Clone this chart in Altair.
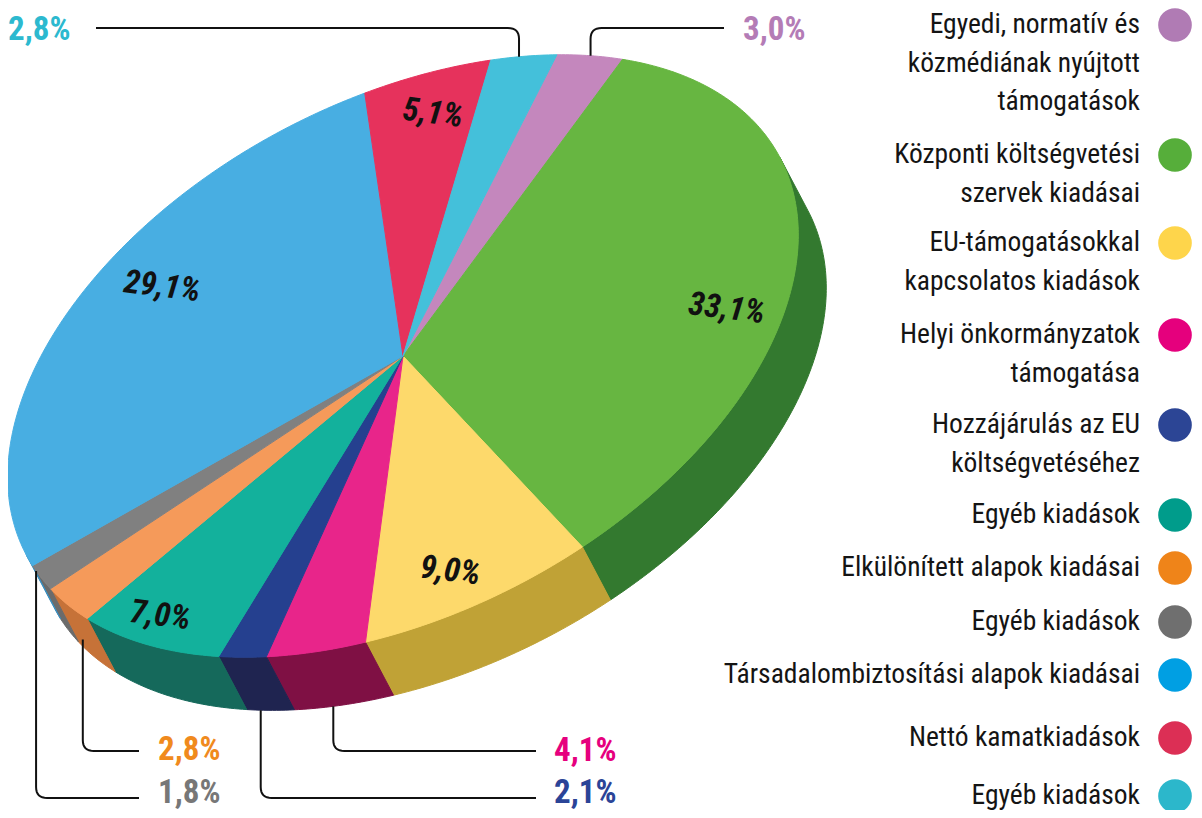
import altair as alt
import numpy as np
import pandas as pd

# ---------------- data ----------------
categories = [
    "Egyedi, normatív és közmédiának nyújtott támogatások",
    "Központi költségvetési szervek kiadásai",
    "EU-támogatásokkal kapcsolatos kiadások",
    "Helyi önkormányzatok támogatása",
    "Hozzájárulás az EU költségvetéséhez",
    "Egyéb kiadások",
    "Elkülönített alapok kiadásai",
    "Egyéb kiadások",
    "Társadalombiztosítási alapok kiadásai",
    "Nettó kamatkiadások",
    "Egyéb kiadások",
]
legend_lines = [
    ["Egyedi, normatív és", "közmédiának nyújtott", "támogatások"],
    ["Központi költségvetési", "szervek kiadásai"],
    ["EU-támogatásokkal", "kapcsolatos kiadások"],
    ["Helyi önkormányzatok", "támogatása"],
    ["Hozzájárulás az EU", "költségvetéséhez"],
    ["Egyéb kiadások"],
    ["Elkülönített alapok kiadásai"],
    ["Egyéb kiadások"],
    ["Társadalombiztosítási alapok kiadásai"],
    ["Nettó kamatkiadások"],
    ["Egyéb kiadások"],
]
values = [3.0, 33.1, 9.0, 4.1, 2.1, 7.0, 2.8, 1.8, 29.1, 5.1, 2.8]
value_labels = ["3,0%", "33,1%", "9,0%", "4,1%", "2,1%", "7,0%",
                "2,8%", "1,8%", "29,1%", "5,1%", "2,8%"]
inside = [False, True, True, False, False, True, False, False, True, True, False]

# ---------------- styles ----------------
top_colors = ["#c487bd", "#67b641", "#fdd96b", "#e8258a", "#25408f", "#13b19c",
              "#f59a5a", "#808080", "#48aee2", "#e6325c", "#44c0da"]
side_colors = ["#8e5f8a", "#33792f", "#c0a236", "#7f1044", "#1f2450", "#15695b",
               "#c67238", "#6b6b6b", "#3a8fc0", "#a02040", "#2e8ea3"]
legend_colors = ["#b07bb4", "#56ae3a", "#fed54b", "#e5007d", "#2c4595", "#009c8b",
                 "#ef8419", "#6f6f6f", "#009fe3", "#dc2f55", "#2cb7cb"]
outer_colors = ["#b47cb6", None, None, "#e6007e", "#2b4497", None,
                "#f08a1d", "#777777", None, None, "#2cb9cf"]
inner_radius_frac = [0, 0.84, 0.84, 0, 0, 0.91, 0, 0, 0.80, 0.85, 0]

# layout (reference pixel space)
CX, CY = 407, 361
A_AX, B_AX = 426, 256
PHI = np.deg2rad(-27.8)
DEPTH = 60
START = -49.5
LABEL_POS_IN_SLICE = 0.58

legend_first_y = [30, 160, 248, 340, 430, 520, 573, 627, 680, 743, 801]
LEG_LINE = 38.5
LEG_TEXT_X = 1144
LEG_DOT_X = 1179

# outer label layout
outer_layout = {
    0: dict(elbow=33, end=728, lx=747, ly=35, depth=0.0, frac=0.5),
    3: dict(elbow=756, end=540, lx=558, ly=756, depth=1.0, frac=0.6),
    4: dict(elbow=803, end=540, lx=558, ly=798, depth=1.0, frac=0.7),
    6: dict(elbow=756, end=143, lx=162, ly=755, depth=0.75, frac=0.66),
    7: dict(elbow=803, end=143, lx=162, ly=798, depth=0.0, frac=0.78),
    10: dict(elbow=33, end=100, lx=12, ly=35, depth=0.0, frac=0.42),
}

FONT_COND = "'Liberation Sans Narrow', 'Roboto Condensed', 'DejaVu Sans Condensed', sans-serif"

# ---------------- geometry from values ----------------
u = np.array([np.cos(PHI), np.sin(PHI)])
v = np.array([-np.sin(PHI), np.cos(PHI)])
Dvec = DEPTH * v
C = np.array([CX, CY], dtype=float)


def P(theta_deg, f=1.0):
    t = np.deg2rad(theta_deg)
    return C + f * (A_AX * np.cos(t) * u + B_AX * np.sin(t) * v)


def arc(t1, t2):
    n = max(2, int(np.ceil(abs(t2 - t1) / 0.7)) + 1)
    return [P(t) for t in np.linspace(t1, t2, n)]


total = sum(values)
cum = np.concatenate([[0], np.cumsum(values)])
t_start = START + cum[:-1] / total * 360
t_end = START + cum[1:] / total * 360

top_rows, side_rows = [], []
for i in range(len(values)):
    pts = [C] + arc(t_start[i], t_end[i])
    for k, p in enumerate(pts):
        top_rows.append(dict(poly=i, k=k, x=p[0], y=p[1], col=top_colors[i]))
    s1, s2 = max(t_start[i], 0), min(t_end[i], 180)
    if s2 > s1:
        up = arc(s1, s2)
        low = [p + Dvec for p in arc(s1, s2)][::-1]
        for k, p in enumerate(up + low):
            side_rows.append(dict(poly=i, k=k, x=p[0], y=p[1], col=side_colors[i]))

top_df = pd.DataFrame(top_rows)
side_df = pd.DataFrame(side_rows)

# inner labels
inner_rows = []
for i in range(len(values)):
    if inside[i]:
        t = t_start[i] + LABEL_POS_IN_SLICE * (t_end[i] - t_start[i])
        p = P(t, inner_radius_frac[i])
        inner_rows.append(dict(x=p[0], y=p[1], text=value_labels[i]))
inner_df = pd.DataFrame(inner_rows)


# leader lines and outer labels
def corner_path(p0, corner, p2, r=11):
    p0, corner, p2 = map(np.asarray, (p0, corner, p2))
    d1 = corner - p0
    d2 = p2 - corner
    d1 = d1 / np.linalg.norm(d1)
    d2 = d2 / np.linalg.norm(d2)
    q0 = corner - r * d1
    q2 = corner + r * d2
    pts = [p0]
    for t in np.linspace(0, 1, 9):
        pts.append((1 - t) ** 2 * q0 + 2 * (1 - t) * t * corner + t ** 2 * q2)
    pts.append(p2)
    return pts


line_rows, outer_rows = [], []
for i, lay in outer_layout.items():
    t = t_start[i] + lay["frac"] * (t_end[i] - t_start[i])
    anchor = P(t) + lay["depth"] * Dvec
    corner = np.array([anchor[0], lay["elbow"]])
    endp = np.array([lay["end"], lay["elbow"]])
    pts = corner_path(anchor, corner, endp)
    for k, p in enumerate(pts):
        line_rows.append(dict(line=i, k=k, x=p[0], y=p[1]))
    outer_rows.append(dict(x=lay["lx"], y=lay["ly"], text=value_labels[i],
                           col=outer_colors[i]))
line_df = pd.DataFrame(line_rows)
outer_df = pd.DataFrame(outer_rows)

# legend
leg_text_rows, leg_dot_rows = [], []
for i, lines in enumerate(legend_lines):
    y0 = legend_first_y[i]
    leg_dot_rows.append(dict(x=LEG_DOT_X, y=y0, col=legend_colors[i], cat=categories[i]))
    for j, ln in enumerate(lines):
        leg_text_rows.append(dict(x=LEG_TEXT_X, y=y0 + j * LEG_LINE, text=ln))
leg_text_df = pd.DataFrame(leg_text_rows)
leg_dot_df = pd.DataFrame(leg_dot_rows)

# ---------------- chart ----------------
xs = alt.Scale(domain=[12, 1198], nice=False, zero=False)
ys = alt.Scale(domain=[13, 815], reverse=True, nice=False, zero=False)
X = alt.X("x:Q", scale=xs, axis=None)
Y = alt.Y("y:Q", scale=ys, axis=None)


def polys(df):
    return alt.Chart(df).mark_line(interpolate="linear-closed", strokeWidth=1,
                                   strokeJoin="round").encode(
        x=X, y=Y, order=alt.Order("k:Q"), detail="poly:N",
        fill=alt.Fill("col:N", scale=None), stroke=alt.Stroke("col:N", scale=None))


sides = polys(side_df)
tops = polys(top_df)

inner = alt.Chart(inner_df).mark_text(
    font=FONT_COND, fontSize=33, fontWeight="bold", fontStyle="italic",
    angle=7, align="center", baseline="middle", color="#111111").encode(
    x=X, y=Y, text="text:N")

leaders = alt.Chart(line_df).mark_line(color="#111111", strokeWidth=2,
                                       strokeCap="butt").encode(
    x=X, y=Y, order=alt.Order("k:Q"), detail="line:N")

outer = alt.Chart(outer_df).mark_text(
    font=FONT_COND, fontSize=33, fontWeight="bold", align="left",
    baseline="middle").encode(
    x=X, y=Y, text="text:N", color=alt.Color("col:N", scale=None))

leg_text = alt.Chart(leg_text_df).mark_text(
    font=FONT_COND, fontSize=27.5, align="right", baseline="middle",
    color="#141414").encode(x=X, y=Y, text="text:N")

leg_dots = alt.Chart(leg_dot_df).mark_point(
    filled=True, shape="circle", size=1134, opacity=1).encode(
    x=X, y=Y, color=alt.Color("col:N", scale=None), tooltip="cat:N")

chart = alt.layer(sides, tops, inner, leaders, outer, leg_text, leg_dots).properties(
    width=1186, height=802, autosize=alt.AutoSizeParams(type="none"), padding=0,
    background="white"
).configure_view(stroke=None)

chart.save("out.html", embed_options={"renderer": "svg", "actions": False})
